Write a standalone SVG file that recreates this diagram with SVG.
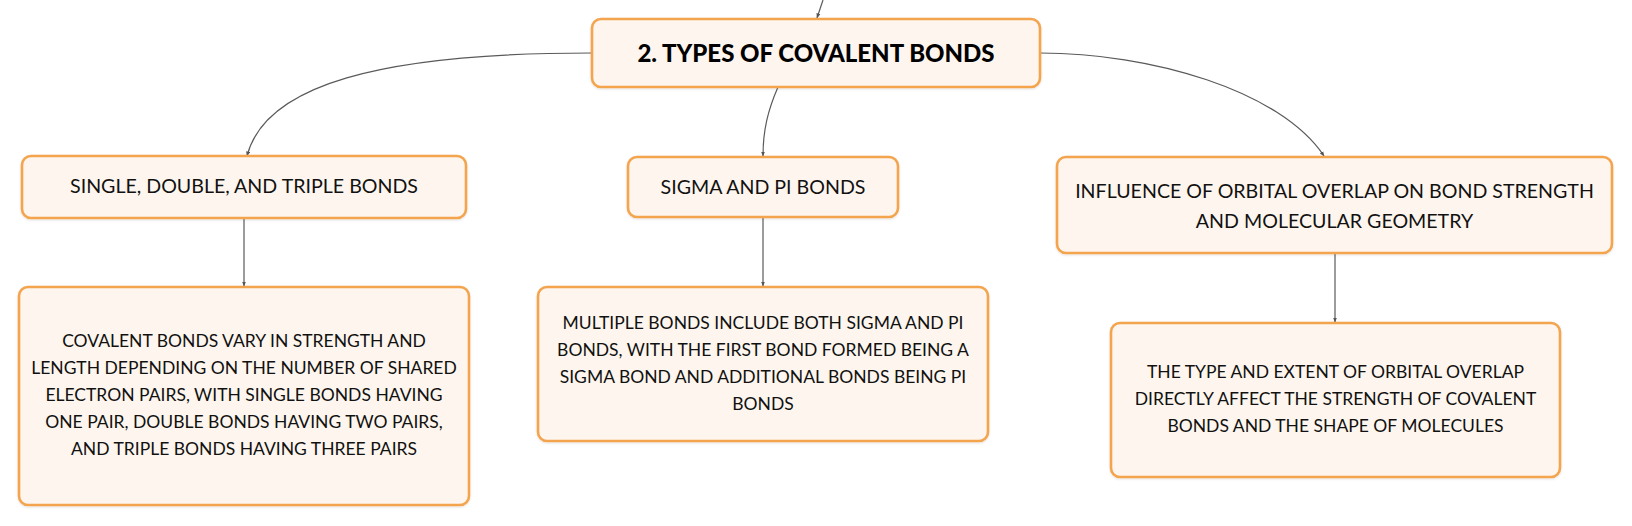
<svg xmlns="http://www.w3.org/2000/svg" width="1632" height="526" viewBox="0 0 1632 526">
<defs>
<marker id="arr" viewBox="0 0 10 10" refX="9" refY="5" markerWidth="5" markerHeight="5" orient="auto" markerUnits="userSpaceOnUse">
<path d="M0,1 L10,5 L0,9 z" fill="#555"/>
</marker>
<filter id="sh" x="-5%" y="-10%" width="110%" height="130%">
<feDropShadow dx="0" dy="1" stdDeviation="1.2" flood-color="#000" flood-opacity="0.12"/>
</filter>
</defs>
<style>
.box{fill:#fef6ee;stroke:#f3a44e;stroke-width:2.6;filter:url(#sh)}
.t{font-family:Lato,"Noto Sans",sans-serif;font-size:19.6px;fill:#111;text-anchor:middle}
.d{font-family:Lato,"Noto Sans",sans-serif;font-size:17.5px;fill:#111;text-anchor:middle}
.h{font-family:Lato,"Noto Sans",sans-serif;font-size:24px;font-weight:900;fill:#000;text-anchor:middle}
.c{fill:none;stroke:#5a5a5a;stroke-width:1.2;marker-end:url(#arr)}
</style>
<rect width="1632" height="526" fill="#fff"/>
<g id="connectors">
<path class="c" d="M823,0 L817,18"/>
<path class="c" d="M592,53 C380,53 265,85 247,156"/>
<path class="c" d="M778,87 C768,110 763,130 763,156"/>
<path class="c" d="M1040,53 C1150,53 1280,90 1324,156"/>
<path class="c" d="M244,218 L244,286"/>
<path class="c" d="M763,217 L763,286"/>
<path class="c" d="M1335,253 L1335,322"/>
</g>
<g id="main">
<rect class="box" x="592" y="19" width="448" height="68" rx="9"/>
<text class="h" x="816" y="62">2. TYPES OF COVALENT BONDS</text>
</g>
<g id="single">
<rect class="box" x="22" y="156" width="444" height="62" rx="9"/>
<text class="t" x="244" y="193">SINGLE, DOUBLE, AND TRIPLE BONDS</text>
</g>
<g id="sigma">
<rect class="box" x="628" y="157" width="270" height="60" rx="9"/>
<text class="t" x="763" y="194">SIGMA AND PI BONDS</text>
</g>
<g id="influence">
<rect class="box" x="1057" y="157" width="555" height="96" rx="9"/>
<text class="t" x="1334.5" y="198">INFLUENCE OF ORBITAL OVERLAP ON BOND STRENGTH</text>
<text class="t" x="1334.5" y="227.5">AND MOLECULAR GEOMETRY</text>
</g>
<g id="detail1">
<rect class="box" x="19" y="287" width="450" height="218" rx="9"/>
<text class="d" x="244" y="347">COVALENT BONDS VARY IN STRENGTH AND</text>
<text class="d" x="244" y="374">LENGTH DEPENDING ON THE NUMBER OF SHARED</text>
<text class="d" x="244" y="401">ELECTRON PAIRS, WITH SINGLE BONDS HAVING</text>
<text class="d" x="244" y="428">ONE PAIR, DOUBLE BONDS HAVING TWO PAIRS,</text>
<text class="d" x="244" y="455">AND TRIPLE BONDS HAVING THREE PAIRS</text>
</g>
<g id="detail2">
<rect class="box" x="538" y="287" width="450" height="154" rx="9"/>
<text class="d" x="763" y="329">MULTIPLE BONDS INCLUDE BOTH SIGMA AND PI</text>
<text class="d" x="763" y="356">BONDS, WITH THE FIRST BOND FORMED BEING A</text>
<text class="d" x="763" y="383">SIGMA BOND AND ADDITIONAL BONDS BEING PI</text>
<text class="d" x="763" y="410">BONDS</text>
</g>
<g id="detail3">
<rect class="box" x="1111" y="323" width="449" height="154" rx="9"/>
<text class="d" x="1335.5" y="378">THE TYPE AND EXTENT OF ORBITAL OVERLAP</text>
<text class="d" x="1335.5" y="405">DIRECTLY AFFECT THE STRENGTH OF COVALENT</text>
<text class="d" x="1335.5" y="432">BONDS AND THE SHAPE OF MOLECULES</text>
</g>
</svg>
